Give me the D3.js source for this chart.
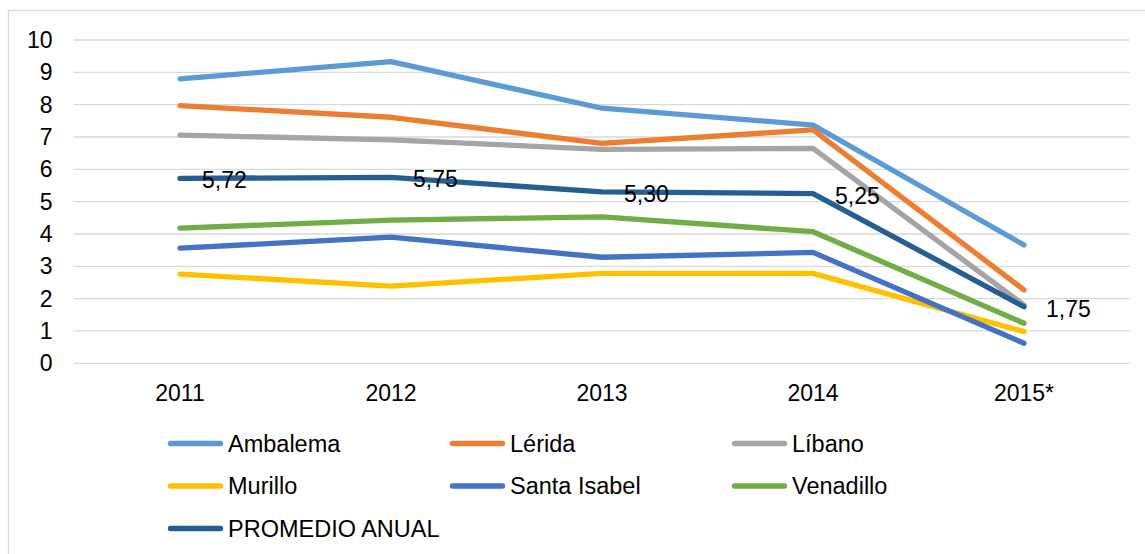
<!DOCTYPE html>
<html>
<head>
<meta charset="utf-8">
<script src="https://cdn.jsdelivr.net/npm/d3@7"></script>
<style>
  body { margin: 0; background: #fff; }
  svg { display: block; font-family: "Liberation Sans", Arial, sans-serif; }
</style>
</head>
<body>
<div id="chart"></div>
<script>
const years = ['2011', '2012', '2013', '2014', '2015*'];
const yTicks = [0, 1, 2, 3, 4, 5, 6, 7, 8, 9, 10];

const ambalema    = [8.80, 9.33, 7.89, 7.37, 3.66];
const lerida      = [7.97, 7.61, 6.80, 7.22, 2.27];
const libano      = [7.06, 6.91, 6.62, 6.65, 1.80];
const murillo     = [2.76, 2.39, 2.78, 2.78, 0.98];
const santaIsabel = [3.56, 3.90, 3.28, 3.43, 0.62];
const venadillo   = [4.18, 4.43, 4.53, 4.07, 1.24];
const promedio    = [5.72, 5.75, 5.30, 5.25, 1.75];

const series = [
  { name: 'Ambalema', values: ambalema, color: '#5B9BD5' },
  { name: 'Lérida', values: lerida, color: '#ED7D31' },
  { name: 'Líbano', values: libano, color: '#A5A5A5' },
  { name: 'Murillo', values: murillo, color: '#FFC000' },
  { name: 'Santa Isabel', values: santaIsabel, color: '#4472C4' },
  { name: 'Venadillo', values: venadillo, color: '#70AD47' },
  { name: 'PROMEDIO ANUAL', values: promedio, color: '#255E91', labels: true }
];

const width = 1145, height = 554;
const plot = { left: 74.5, right: 1129.5, top: 40, bottom: 363.3 };

const svg = d3.select('#chart')
  .append('svg')
    .attr('width', width)
    .attr('height', height);

// chart area border (only left and top visible)
svg.append('rect')
  .attr('x', 8.5)
  .attr('y', 10.5)
  .attr('width', 1200)
  .attr('height', 600)
  .attr('fill', 'none')
  .attr('stroke', '#d9d9d9')
  .attr('stroke-width', 1.3);

const x = d3.scaleBand()
  .domain(years)
  .range([plot.left, plot.right]);

const y = d3.scaleLinear()
  .domain([0, 10])
  .range([plot.bottom, plot.top]);

// gridlines
svg.append('g')
  .selectAll('line')
  .data(yTicks)
  .enter().append('line')
    .attr('x1', plot.left - 1)
    .attr('x2', plot.right)
    .attr('y1', d => y(d))
    .attr('y2', d => y(d))
    .attr('stroke', '#d9d9d9')
    .attr('stroke-width', 1.3);

// y axis labels
const yAxis = svg.append('g')
  .attr('transform', `translate(${plot.left - 22},0)`)
  .call(d3.axisLeft(y).tickValues(yTicks).tickSize(0).tickPadding(0));
yAxis.select('.domain').remove();
yAxis.selectAll('text')
  .attr('font-size', 23)
  .attr('fill', '#000')
  .attr('font-family', '"Liberation Sans", Arial, sans-serif');

// x axis labels
const xAxis = svg.append('g')
  .attr('transform', `translate(0,${plot.bottom})`)
  .call(d3.axisBottom(x).tickSize(0).tickPadding(21));
xAxis.select('.domain').remove();
xAxis.selectAll('text')
  .attr('font-size', 23)
  .attr('fill', '#000')
  .attr('font-family', '"Liberation Sans", Arial, sans-serif');

const line = d3.line()
  .x((d, i) => x(years[i]) + x.bandwidth() / 2)
  .y(d => y(d));

svg.append('g')
  .selectAll('path')
  .data(series)
  .enter().append('path')
    .attr('d', d => line(d.values))
    .attr('fill', 'none')
    .attr('stroke', d => d.color)
    .attr('stroke-width', 5.3)
    .attr('stroke-linecap', 'round')
    .attr('stroke-linejoin', 'round');

// data labels for the annual average
const avg = series.find(s => s.labels);
svg.append('g')
  .selectAll('text')
  .data(avg.values)
  .enter().append('text')
    .attr('x', (d, i) => x(years[i]) + x.bandwidth() / 2 + 22)
    .attr('y', d => y(d) + 2)
    .attr('dy', '0.35em')
    .attr('font-size', 23)
    .attr('fill', '#000')
    .text(d => d.toFixed(2).replace('.', ','));

// legend
const legend = svg.append('g');
const item = legend.selectAll('g')
  .data(series)
  .enter().append('g')
    .attr('transform', (d, i) => `translate(${168 + (i % 3) * 282},${443.5 + Math.floor(i / 3) * 42.5})`);

item.append('line')
  .attr('x1', 2.5)
  .attr('x2', 52.5)
  .attr('stroke', d => d.color)
  .attr('stroke-width', 5.3)
  .attr('stroke-linecap', 'round');

item.append('text')
  .attr('x', 60)
  .attr('dy', '0.35em')
  .attr('font-size', 23.5)
  .attr('fill', '#000')
  .text(d => d.name);
</script>
</body>
</html>
